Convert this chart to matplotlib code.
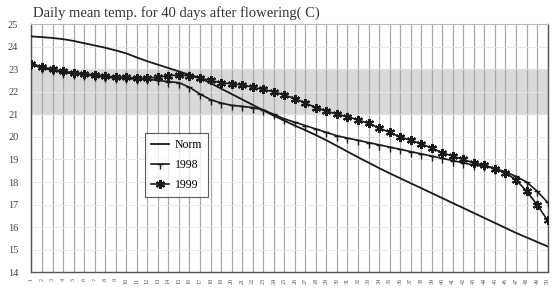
import matplotlib.pyplot as plt
import numpy as np
from matplotlib.path import Path

# daily mean temperature, 50 days
days = list(range(1, 51))

norm = [24.45, 24.42, 24.38, 24.33, 24.25, 24.15, 24.05, 23.95, 23.83, 23.7,
        23.52, 23.35, 23.2, 23.05, 22.9, 22.75, 22.62, 22.38, 22.14, 21.9,
        21.66, 21.42, 21.18, 20.94, 20.72, 20.5, 20.3, 20.08, 19.85, 19.6,
        19.35, 19.1, 18.86, 18.62, 18.39, 18.17, 17.95, 17.73, 17.51, 17.29,
        17.07, 16.85, 16.63, 16.41, 16.19, 15.97, 15.75, 15.55, 15.35, 15.15]

y1998 = [23.2, 23.05, 22.95, 22.85, 22.8, 22.75, 22.7, 22.65, 22.6, 22.6,
         22.55, 22.55, 22.5, 22.45, 22.4, 22.2, 21.9, 21.65, 21.5, 21.4,
         21.35, 21.3, 21.2, 21.0, 20.8, 20.65, 20.5, 20.35, 20.2, 20.05,
         19.95, 19.85, 19.75, 19.65, 19.55, 19.45, 19.35, 19.25, 19.15, 19.05,
         18.95, 18.85, 18.75, 18.7, 18.6, 18.45, 18.25, 18.0, 17.6, 17.1]

y1999 = [23.25, 23.1, 23.0, 22.9, 22.85, 22.8, 22.75, 22.7, 22.65, 22.65,
         22.6, 22.6, 22.65, 22.7, 22.75, 22.7, 22.6, 22.5, 22.4, 22.35,
         22.3, 22.2, 22.1, 22.0, 21.85, 21.7, 21.5, 21.3, 21.15, 21.0,
         20.9, 20.75, 20.6, 20.4, 20.2, 20.0, 19.85, 19.7, 19.5, 19.3,
         19.15, 19.0, 18.85, 18.75, 18.6, 18.4, 18.1, 17.6, 17.0, 16.3]

y_ticks = list(range(14, 26))
band = (21, 23)

serif = 'Liberation Serif'

# T-shaped marker for 1998
t_marker = Path([(-1, 0), (1, 0), (0, 0), (0, -1.6)],
                [Path.MOVETO, Path.LINETO, Path.MOVETO, Path.LINETO])

fig = plt.figure(figsize=(5.52, 3.0), dpi=100)
ax = fig.add_axes([0.056, 0.092, 0.937, 0.828])

ax.axhspan(band[0], band[1], color='#d9d9d9', zorder=0)

x = np.arange(len(days))
ax.plot(x, norm, color='#1a1a1a', lw=1.3, label='Norm', zorder=3)
ax.plot(x, y1998, color='#1a1a1a', lw=1.2, marker=t_marker, ms=6.5,
        mew=1.0, label='1998', zorder=3)
ax.plot(x, y1999, color='#1a1a1a', lw=1.2, marker=(6, 2, 0), ms=6.5,
        mew=1.5, label='1999', zorder=3)

ax.set_xlim(-0.05, len(days) - 0.95)
ax.set_ylim(14, 25)
ax.set_yticks(y_ticks)
ax.set_yticklabels([str(v) for v in y_ticks], fontfamily=serif,
                   fontsize=7.5, color='#444444')
ax.set_xticks(x)
ax.set_xticklabels([str(d) for d in days], fontfamily=serif,
                   fontsize=4.5, rotation=90, color='#555555')
ax.tick_params(length=0)
ax.tick_params(axis='y', pad=9)
ax.tick_params(axis='x', pad=4)

for xi in x:
    ax.axvline(xi, color='#a8a8a8', lw=0.9, zorder=1)
for yv in y_ticks:
    ax.axhline(yv, color='#e4e4e4', lw=0.6, zorder=1)

for side in ['left', 'bottom', 'right']:
    ax.spines[side].set_color('#555555')
    ax.spines[side].set_linewidth(1.0)
ax.spines['top'].set_color('#bbbbbb')

leg = ax.legend(loc='upper left', bbox_to_anchor=(0.21, 0.585),
                prop={'family': serif, 'size': 8.5}, frameon=True,
                fancybox=False, edgecolor='#333333', handlelength=1.5,
                handletextpad=0.5, borderpad=0.5, labelspacing=0.7)
leg.get_frame().set_linewidth(0.8)

fig.text(0.06, 0.955, 'Daily mean temp. for 40 days after flowering( C)',
         fontfamily=serif, fontsize=10.5, color='#333333', va='center')

fig.savefig('out.png', dpi=100)
